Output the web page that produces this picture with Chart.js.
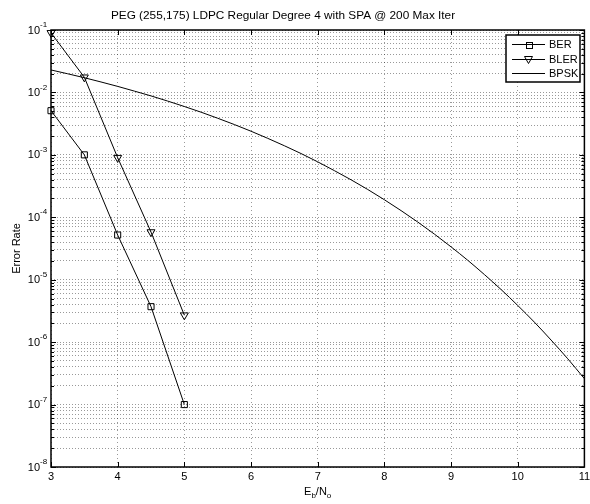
<!DOCTYPE html>
<html>
<head>
<meta charset="utf-8">
<title>PEG (255,175) LDPC</title>
<script src="https://cdn.jsdelivr.net/npm/chart.js@4/dist/chart.umd.min.js"></script>
<style>
  html, body { margin: 0; padding: 0; background: #fff; }
  canvas { display: block; }
</style>
</head>
<body>
<canvas id="c" width="590" height="504"></canvas>
<script>
// Simulated points (Eb/No in dB)
const ebn0 = [3, 3.5, 4, 4.5, 5];
const ber  = [5.1e-3, 1.0e-3, 5.2e-5, 3.7e-6, 1.0e-7];
const bler = [9.0e-2, 1.75e-2, 9.0e-4, 5.8e-5, 2.7e-6];

// Uncoded BPSK reference curve
const bpskEbN0 = [3, 3.25, 3.5, 3.75, 4, 4.25, 4.5, 4.75, 5, 5.25, 5.5, 5.75, 6, 6.25, 6.5, 6.75,
                  7, 7.25, 7.5, 7.75, 8, 8.25, 8.5, 8.75, 9, 9.25, 9.5, 9.75, 10, 10.25, 10.5, 10.75, 11];
const bpsk = [2.29e-2, 1.99e-2, 1.72e-2, 1.47e-2, 1.25e-2, 1.05e-2, 8.8e-3, 7.27e-3, 5.95e-3, 4.83e-3,
              3.86e-3, 3.06e-3, 2.39e-3, 1.84e-3, 1.40e-3, 1.05e-3, 7.73e-4, 5.59e-4, 3.99e-4, 2.79e-4,
              1.91e-4, 1.28e-4, 8.4e-5, 5.38e-5, 3.36e-5, 2.05e-5, 1.21e-5, 6.97e-6, 3.87e-6, 2.09e-6,
              1.08e-6, 5.42e-7, 2.6e-7];

// Axis ticks
const xTicks = [3, 4, 5, 6, 7, 8, 9, 10, 11];
const yExponents = [-8, -7, -6, -5, -4, -3, -2, -1];
const minorMultipliers = [2, 3, 4, 5, 6, 7, 8, 9];

const titleText = 'PEG (255,175) LDPC Regular Degree 4 with SPA @ 200 Max Iter';
const legendLabels = ['BER', 'BLER', 'BPSK'];

const FONT = '"Liberation Sans", Arial, Helvetica, sans-serif';

const pts = (xs, ys) => xs.map((v, i) => ({ x: v, y: ys[i] }));

// all decade and in-between values for the log axis
const yTickValues = [];
yExponents.forEach((e, i) => {
  yTickValues.push(Math.pow(10, e));
  if (i < yExponents.length - 1) {
    minorMultipliers.forEach(m => yTickValues.push(m * Math.pow(10, e)));
  }
});

function drawSquare(ctx, cx, cy) {
  ctx.strokeRect(Math.round(cx) - 2.5, Math.round(cy) - 2.5, 6, 6);
}
function drawTriangleDown(ctx, cx, cy) {
  ctx.beginPath();
  ctx.moveTo(cx - 4, cy - 3);
  ctx.lineTo(cx + 4, cy - 3);
  ctx.lineTo(cx, cy + 4);
  ctx.closePath();
  ctx.stroke();
}

const axesDecor = {
  id: 'axesDecor',
  afterDatasetsDraw(chart) {
    const { ctx, chartArea: a, scales: { x, y } } = chart;
    ctx.save();

    // plot box
    ctx.strokeStyle = '#000';
    ctx.lineWidth = 1.5;
    ctx.strokeRect(a.left, a.top, a.right - a.left, a.bottom - a.top);

    // inward tick marks
    ctx.lineWidth = 1;
    ctx.beginPath();
    xTicks.forEach(v => {
      const px = Math.round(x.getPixelForValue(v)) + 0.5;
      ctx.moveTo(px, a.bottom); ctx.lineTo(px, a.bottom - 5);
      ctx.moveTo(px, a.top); ctx.lineTo(px, a.top + 5);
    });
    yTickValues.forEach(v => {
      const py = Math.round(y.getPixelForValue(v)) + 0.5;
      const major = Math.abs(Math.log10(v) - Math.round(Math.log10(v))) < 1e-9;
      const len = major ? 5 : 3;
      ctx.moveTo(a.left, py); ctx.lineTo(a.left + len, py);
      ctx.moveTo(a.right, py); ctx.lineTo(a.right - len, py);
    });
    ctx.stroke();

    // y tick labels 10^e
    ctx.fillStyle = '#000';
    yExponents.forEach(e => {
      const py = y.getPixelForValue(Math.pow(10, e));
      ctx.font = '11px ' + FONT;
      ctx.textAlign = 'right';
      ctx.textBaseline = 'middle';
      ctx.fillText('10', 40, py + 0.5);
      ctx.font = '8px ' + FONT;
      ctx.textAlign = 'left';
      ctx.fillText(String(e), 40, py - 5);
    });

    // title
    ctx.font = '11.8px ' + FONT;
    ctx.textAlign = 'center';
    ctx.textBaseline = 'middle';
    ctx.fillText(titleText, 283, 15.5);

    // y axis title
    ctx.save();
    ctx.translate(17, (a.top + a.bottom) / 2);
    ctx.rotate(-Math.PI / 2);
    ctx.font = '11px ' + FONT;
    ctx.fillText('Error Rate', 0, 0);
    ctx.restore();

    // x axis title E_b/N_o
    const parts = [['E', 11, 0], ['b', 8, 3], ['/N', 11, 0], ['o', 8, 3]];
    let w = 0;
    parts.forEach(p => { ctx.font = p[1] + 'px ' + FONT; w += ctx.measureText(p[0]).width; });
    let cx = (a.left + a.right) / 2 - w / 2;
    ctx.textAlign = 'left';
    ctx.textBaseline = 'alphabetic';
    parts.forEach(p => {
      ctx.font = p[1] + 'px ' + FONT;
      ctx.fillText(p[0], cx, 495 + p[2]);
      cx += ctx.measureText(p[0]).width;
    });

    // legend
    const lx = 506, ly = 35, lw = 74, lh = 47;
    ctx.fillStyle = '#fff';
    ctx.fillRect(lx, ly, lw, lh);
    ctx.strokeStyle = '#000';
    ctx.lineWidth = 1.5;
    ctx.strokeRect(lx, ly, lw, lh);
    ctx.lineWidth = 1;
    const rows = [44.5, 59.5, 73.5];
    legendLabels.forEach((lab, i) => {
      const ry = rows[i];
      ctx.beginPath();
      ctx.moveTo(512, ry); ctx.lineTo(545, ry);
      ctx.stroke();
      if (i === 0) { drawSquare(ctx, 528.5, ry); }
      if (i === 1) { drawTriangleDown(ctx, 528.5, ry); }
      ctx.fillStyle = '#000';
      ctx.font = '11px ' + FONT;
      ctx.textAlign = 'left';
      ctx.textBaseline = 'middle';
      ctx.fillText(lab, 549, ry);
    });

    ctx.restore();
  }
};

const gridDotted = {
  color: 'rgba(0,0,0,0.4)',
  lineWidth: 1,
  drawTicks: false
};

new Chart(document.getElementById('c'), {
  type: 'line',
  data: {
    datasets: [
      {
        label: 'BER',
        data: pts(ebn0, ber),
        borderColor: '#000',
        borderWidth: 1,
        pointStyle: 'rect',
        pointRadius: 4.3,
        pointBorderWidth: 1,
        pointBorderColor: '#000',
        pointBackgroundColor: 'rgba(0,0,0,0)',
        clip: false
      },
      {
        label: 'BLER',
        data: pts(ebn0, bler),
        borderColor: '#000',
        borderWidth: 1,
        pointStyle: 'triangle',
        pointRotation: 180,
        pointRadius: 4.6,
        pointBorderWidth: 1,
        pointBorderColor: '#000',
        pointBackgroundColor: 'rgba(0,0,0,0)',
        clip: false
      },
      {
        label: 'BPSK',
        data: pts(bpskEbN0, bpsk),
        borderColor: '#000',
        borderWidth: 1,
        pointRadius: 0,
        cubicInterpolationMode: 'monotone'
      }
    ]
  },
  options: {
    responsive: false,
    animation: false,
    events: [],
    layout: { padding: { top: 30, right: 3, left: 0, bottom: 0 } },
    plugins: {
      legend: { display: false },
      title: { display: false },
      tooltip: { enabled: false }
    },
    scales: {
      x: {
        type: 'linear',
        min: 3,
        max: 11,
        afterBuildTicks(scale) { scale.ticks = xTicks.map(v => ({ value: v })); },
        afterFit(scale) { scale.height = 37; scale.paddingLeft = 0; scale.paddingRight = 0; },
        ticks: {
          autoSkip: false,
          maxRotation: 0,
          padding: 3,
          color: '#000',
          font: { family: FONT, size: 11 }
        },
        grid: Object.assign({}, gridDotted),
        border: { display: false, dash: [1, 3] }
      },
      y: {
        type: 'logarithmic',
        min: 1e-8,
        max: 1e-1,
        afterBuildTicks(scale) { scale.ticks = yTickValues.map(v => ({ value: v })); },
        afterFit(scale) { scale.width = 51; scale.paddingTop = 0; scale.paddingBottom = 0; },
        ticks: { display: false },
        grid: Object.assign({}, gridDotted),
        border: { display: false, dash: [1, 2] }
      }
    }
  },
  plugins: [axesDecor]
});
</script>
</body>
</html>
